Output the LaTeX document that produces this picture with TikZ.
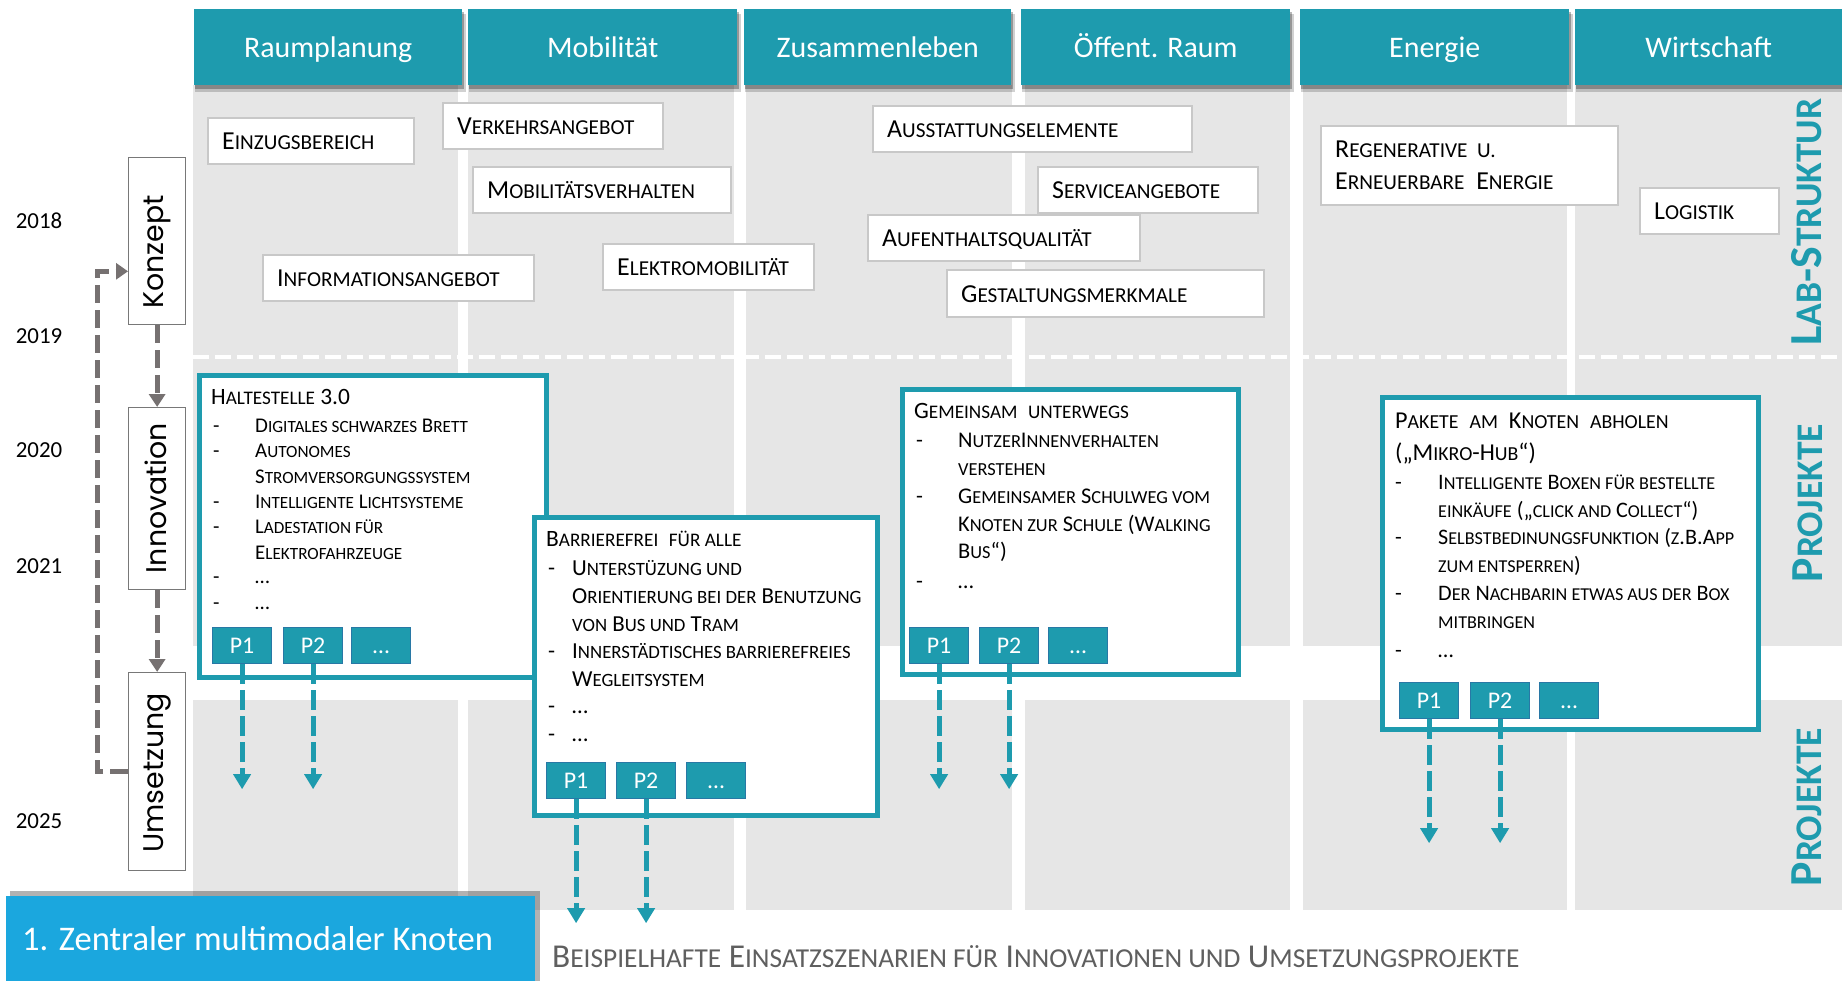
\documentclass[tikz,border=0pt]{standalone}
\usepackage{fontspec}
\setmainfont{Carlito}
\newfontfamily\geofont{Poppins}
\usetikzlibrary{arrows.meta}
\definecolor{tealc}{RGB}{30,155,174}
\definecolor{colgray}{RGB}{230,230,230}
\definecolor{labgray}{RGB}{200,200,200}
\definecolor{phgray}{RGB}{120,120,120}
\definecolor{arrgray}{RGB}{118,113,113}
\definecolor{pborder}{RGB}{40,120,165}
\definecolor{titleblue}{RGB}{27,167,222}
\definecolor{capgray}{RGB}{95,95,95}
\makeatletter
\newcommand\scx[1]{{\fontsize{\dimexpr\f@size pt*82/100\relax}{\f@baselineskip}\selectfont\MakeUppercase{#1}}}
\makeatother
\newlength\dashind
\newcommand\Dash{\makebox[\dashind][l]{-}}
\newcommand\Nd{\hspace*{\dashind}}
\begin{document}
\begin{tikzpicture}[x=1bp,y=-1bp,
  hdr/.style={fill=tealc, text=white, anchor=north west, inner sep=0pt, minimum height=76bp, text height=20bp, text depth=0pt, font=\fontsize{30}{36}\selectfont},
  labbox/.style={draw=labgray, line width=1.5bp, fill=white, anchor=north west, inner sep=0pt},
  ltext/.style={anchor=base west, inner sep=0pt, font=\fontsize{26}{32}\selectfont},
  phbox/.style={draw=phgray, line width=1.3bp, fill=white, anchor=north west, inner sep=0pt, minimum width=57bp},
  phtext/.style={rotate=90, inner sep=0pt, font=\geofont\fontsize{28.5}{34}\selectfont},
  yearlbl/.style={anchor=base, inner sep=0pt, font=\fontsize{23}{28}\selectfont},
  garrow/.style={draw=arrgray, line width=5bp, dash pattern=on 18bp off 7bp, -{Triangle[width=16bp,length=13bp]}},
  pbox/.style={draw=tealc, line width=4.5bp, fill=white, anchor=north west, inner sep=0pt},
  ptitle/.style={anchor=base west, inner sep=0pt, font=\fontsize{23.5}{28}\selectfont},
  hitem/.style={anchor=base west, inner sep=0pt, font=\fontsize{21}{25}\selectfont},
  bitem/.style={anchor=base west, inner sep=0pt, font=\fontsize{23}{27}\selectfont},
  gitem/.style={anchor=base west, inner sep=0pt, font=\fontsize{22.5}{27}\selectfont},
  kitem/.style={anchor=base west, inner sep=0pt, font=\fontsize{22.2}{27}\selectfont},
  pbtn/.style={fill=tealc, draw=pborder, line width=1.2bp, anchor=north west, minimum width=59bp, minimum height=36bp, inner sep=0pt, text=white, text height=16bp, text depth=0pt, font=\fontsize{24}{28}\selectfont},
  tarrow/.style={draw=tealc, line width=5bp, dash pattern=on 20bp off 6bp, -{Triangle[width=17bp,length=15bp]}},
  sidelbl/.style={rotate=90, inner sep=0pt, text=tealc, font=\bfseries\fontsize{46}{50}\selectfont}
]
\useasboundingbox (0,0) rectangle (1842,981);
\fill[white] (0,0) rectangle (1842,981);

% gray columns
\foreach \a/\b in {193/458,468/734,746/1012,1025/1290,1303/1567,1575/1842}{
  \fill[colgray] (\a,85) rectangle (\b,646);
  \fill[colgray] (\a,700) rectangle (\b,910);
}
\draw[white, line width=4bp, dash pattern=on 16bp off 6bp] (193,357) -- (1842,357);

% header shadows
\foreach \a/\b in {194/462,468/737,744/1011,1021/1290,1300/1569,1575/1842}{
  \fill[black, opacity=.18] (\a+1,14) rectangle (\b+4,92);
  \fill[black, opacity=.28] (\a+1,12) rectangle (\b+2,89);
}
% headers
\node[hdr, minimum width=268bp] (h1) at (194,9) {Raumplanung};
\node[hdr, minimum width=269bp] (h2) at (468,9) {Mobilität};
\node[hdr, minimum width=267bp] (h3) at (744,9) {Zusammenleben};
\node[hdr, minimum width=269bp] (h4) at (1021,9) {Öffent. Raum};
\node[hdr, minimum width=269bp] (h5) at (1300,9) {Energie};
\node[hdr, minimum width=267bp] (h6) at (1575,9) {Wirtschaft};

% Lab-Struktur boxes
\node[labbox, minimum width=206bp, minimum height=46bp] (lb1) at (207,117) {};
\node[ltext] (lt1) at ([xshift=15bp,yshift=-9bp]lb1.west) {E\scx{inzugsbereich}};
\node[labbox, minimum width=220bp, minimum height=46bp] (lb2) at (442,102) {};
\node[ltext] (lt2) at ([xshift=15bp,yshift=-9bp]lb2.west) {V\scx{erkehrsangebot}};
\node[labbox, minimum width=258bp, minimum height=46bp] (lb3) at (472,166) {};
\node[ltext] (lt3) at ([xshift=15bp,yshift=-9bp]lb3.west) {M\scx{obilitätsverhalten}};
\node[labbox, minimum width=271bp, minimum height=46bp] (lb4) at (262,254) {};
\node[ltext] (lt4) at ([xshift=15bp,yshift=-9bp]lb4.west) {I\scx{nformationsangebot}};
\node[labbox, minimum width=211bp, minimum height=46bp] (lb5) at (602,243) {};
\node[ltext] (lt5) at ([xshift=15bp,yshift=-9bp]lb5.west) {E\scx{lektromobilität}};
\node[labbox, minimum width=319bp, minimum height=46bp] (lb6) at (872,105) {};
\node[ltext] (lt6) at ([xshift=15bp,yshift=-9bp]lb6.west) {A\scx{usstattungselemente}};
\node[labbox, minimum width=220bp, minimum height=46bp] (lb7) at (1037,166) {};
\node[ltext] (lt7) at ([xshift=15bp,yshift=-9bp]lb7.west) {S\scx{erviceangebote}};
\node[labbox, minimum width=272bp, minimum height=46bp] (lb8) at (867,214) {};
\node[ltext] (lt8) at ([xshift=15bp,yshift=-9bp]lb8.west) {A\scx{ufenthaltsqualität}};
\node[labbox, minimum width=317bp, minimum height=47bp] (lb9) at (946,269) {};
\node[ltext] (lt9) at ([xshift=15bp,yshift=-9bp]lb9.west) {G\scx{estaltungsmerkmale}};
\node[labbox, minimum width=297bp, minimum height=79bp] (lb10) at (1320,125) {};
\node[ltext] (lt10a) at ([xshift=15bp,yshift=7.5bp]lb10.west) {R\scx{egenerative~~u.}};
\node[ltext] (lt10b) at ([xshift=15bp,yshift=-24.5bp]lb10.west) {E\scx{rneuerbare}~~E\scx{nergie}};
\node[labbox, minimum width=139bp, minimum height=46bp] (lb11) at (1639,187) {};
\node[ltext] (lt11) at ([xshift=15bp,yshift=-9bp]lb11.west) {L\scx{ogistik}};

% years
\node[yearlbl] (y18) at (39,228) {2018};
\node[yearlbl] (y19) at (39,343) {2019};
\node[yearlbl] (y20) at (39,457) {2020};
\node[yearlbl] (y21) at (39,573) {2021};
\node[yearlbl] (y25) at (39,828) {2025};

% phase boxes
\node[phbox, minimum height=167bp] (kz) at (128,157) {};
\node[phbox, minimum height=182bp] (inn) at (128,407) {};
\node[phbox, minimum height=198bp] (um) at (128,672) {};
\node[phtext] (kzt) at (157,252) {Konzept};
\node[phtext] (innt) at (156,498) {Innovation};
\node[phtext] (umt) at (157,773) {Umsetzung};
\draw[garrow] (kz.south) -- (inn.north);
\draw[garrow] (inn.south) -- (um.north);
\draw[garrow, -{Triangle[width=16bp,length=12bp]}] (um.west) -- ++(-31,0) |- ([yshift=54bp]kz.south west);

% Haltestelle
\node[pbox, minimum width=347bp, minimum height=302bp] (hs) at (197,373) {};
\node[ptitle] (hst) at (211,404) {H\scx{altestelle} 3.0};
\setlength\dashind{42bp}
\foreach \yy/\txt [count=\i] in {432/{\Dash D\scx{igitales schwarzes} B\scx{rett}},457/{\Dash A\scx{utonomes}},483/{\Nd S\scx{tromversorgungssystem}},508/{\Dash I\scx{ntelligente} L\scx{ichtsysteme}},533/{\Dash L\scx{adestation für}},559/{\Nd E\scx{lektrofahrzeuge}},583/{\Dash …},609/{\Dash …}}
  \node[hitem] (hsl\i) at (213,\yy) {\txt};
\node[pbtn] (hp1) at (212,627) {P1};
\node[pbtn] (hp2) at (283,627) {P2};
\node[pbtn] (hp3) at (351,627) {…};

% Barrierefrei
\node[pbox, minimum width=343bp, minimum height=298bp] (bf) at (532,515) {};
\node[ptitle] (bft) at (546,546) {B\scx{arrierefrei}~~\scx{für alle}};
\setlength\dashind{24bp}
\foreach \yy/\txt [count=\i] in {575/{\Dash U\scx{nterstüzung und}},603/{\Nd O\scx{rientierung bei der} B\scx{enutzung}},631/{\Nd \scx{von} B\scx{us und} T\scx{ram}},658/{\Dash I\scx{nnerstädtisches barrierefreies}},686/{\Nd W\scx{egleitsystem}},713/{\Dash …},741/{\Dash …}}
  \node[bitem] (bfl\i) at (548,\yy) {\txt};
\node[pbtn] (bp1) at (546,762) {P1};
\node[pbtn] (bp2) at (616,762) {P2};
\node[pbtn] (bp3) at (686,762) {…};

% Gemeinsam unterwegs
\node[pbox, minimum width=336bp, minimum height=285bp] (gu) at (900,387) {};
\node[ptitle] (gut) at (914,418) {G\scx{emeinsam}~~\scx{unterwegs}};
\setlength\dashind{42bp}
\foreach \yy/\txt [count=\i] in {447/{\Dash N\scx{utzer}I\scx{nnenverhalten}},475/{\Nd \scx{verstehen}},503/{\Dash G\scx{emeinsamer} S\scx{chulweg vom}},531/{\Nd K\scx{noten zur} S\scx{chule} (W\scx{alking}},558/{\Nd B\scx{us}“)},588/{\Dash …}}
  \node[gitem] (gul\i) at (916,\yy) {\txt};
\node[pbtn] (gp1) at (909,627) {P1};
\node[pbtn] (gp2) at (979,627) {P2};
\node[pbtn] (gp3) at (1048,627) {…};

% Pakete
\node[pbox, minimum width=376bp, minimum height=332bp] (pk) at (1380,395) {};
\node[ptitle, font=\fontsize{24.3}{28}\selectfont] (pkt1) at (1395,428) {P\scx{akete}~~\scx{am}~~K\scx{noten}~~\scx{abholen}};
\node[ptitle, font=\fontsize{24.3}{28}\selectfont] (pkt2) at (1395,460) {(„M\scx{ikro}-H\scx{ub}“)};
\setlength\dashind{43bp}
\foreach \yy/\txt [count=\i] in {489/{\Dash I\scx{ntelligente} B\scx{oxen für bestellte}},517/{\Nd \scx{einkäufe} („\scx{click and} C\scx{ollect}“)},544/{\Dash S\scx{elbstbedinungsfunktion} (\scx{z}.B.A\scx{pp}},572/{\Nd \scx{zum entsperren})},600/{\Dash D\scx{er} N\scx{achbarin etwas aus der} B\scx{ox}},628/{\Nd \scx{mitbringen}},657/{\Dash …}}
  \node[kitem] (pkl\i) at (1395,\yy) {\txt};
\node[pbtn] (kp1) at (1399,682) {P1};
\node[pbtn] (kp2) at (1470,682) {P2};
\node[pbtn] (kp3) at (1539,682) {…};

% teal arrows
\draw[tarrow] (hp1.south) -- ++(0,125);
\draw[tarrow] (hp2.south) -- ++(0,125);
\draw[tarrow] (bp1.south) -- ++(0,124);
\draw[tarrow] (bp2.south) -- ++(0,124);
\draw[tarrow] (gp1.south) -- ++(0,125);
\draw[tarrow] (gp2.south) -- ++(0,125);
\draw[tarrow] (kp1.south) -- ++(0,124);
\draw[tarrow] (kp2.south) -- ++(0,124);

% side labels
\node[sidelbl] (ls) at (1807,222) {L\scx{ab}-S\scx{truktur}};
\node[sidelbl] (pj1) at (1808,503) {P\scx{rojekte}};
\node[sidelbl] (pj2) at (1807,807) {P\scx{rojekte}};

% title box
\fill[black, opacity=.3] (10,891) rectangle (540,981);
\node[fill=titleblue, anchor=north west, inner sep=0pt, minimum width=529bp, minimum height=85bp] (tb) at (6,896) {};
\node[anchor=base west, inner sep=0pt, text=white, font=\fontsize{34.7}{40}\selectfont] (tbt) at (22,950) {1. Zentraler multimodaler Knoten};

% caption
\node[anchor=base west, inner sep=0pt, text=capgray, font=\fontsize{33.5}{38}\selectfont] (cap) at (552,967) {B\scx{eispielhafte} E\scx{insatzszenarien für} I\scx{nnovationen und} U\scx{msetzungsprojekte}};
\end{tikzpicture}
\end{document}
